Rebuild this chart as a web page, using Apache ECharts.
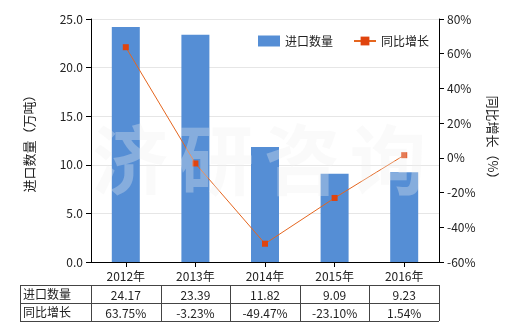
<!DOCTYPE html>
<html><head><meta charset="utf-8">
<script src="https://cdn.jsdelivr.net/npm/echarts@6/dist/echarts.min.js"></script>
<style>html,body{margin:0;padding:0;background:#fff}#c{width:520px;height:330px}</style>
</head><body><div id="c"></div>
<script>
var categories = ['2012年','2013年','2014年','2015年','2016年'];
var importQty = [24.17, 23.39, 11.82, 9.09, 9.23];
var growth = [63.75, -3.23, -49.47, -23.10, 1.54];
var qtyLabels = ['24.17','23.39','11.82','9.09','9.23'];
var growthLabels = ['63.75%','-3.23%','-49.47%','-23.10%','1.54%'];
var rowNames = ['进口数量','同比增长'];

var FONT = '"Noto Sans CJK SC", "Microsoft YaHei", sans-serif';
var chart = echarts.init(document.getElementById('c'), null, {renderer:'canvas'});
var opt = {
  backgroundColor:'#fff',
  textStyle:{fontFamily:FONT},
  animation:false,
  grid:{left:91, right:81, top:19, bottom:68},
  legend:{
    top:30, left:253, itemGap:20, itemWidth:22, itemHeight:11,
    textStyle:{fontFamily:FONT, fontSize:12, color:'#222'},
    data:[{name:'进口数量', icon:'rect'},{name:'同比增长'}]
  },
  xAxis:{
    type:'category', data:categories,
    axisLine:{lineStyle:{color:'#000'}},
    axisTick:{show:true, alignWithLabel:true, lineStyle:{color:'#000'}},
    axisLabel:{color:'#222', fontSize:12, fontFamily:FONT, margin:8}
  },
  yAxis:[{
    type:'value', min:0, max:25, interval:5,
    name:'进口数量（万吨）', nameLocation:'middle', nameGap:55, nameRotate:90,
    nameTextStyle:{fontSize:13, color:'#222', fontFamily:FONT},
    axisLine:{show:true, lineStyle:{color:'#000'}},
    axisTick:{show:true, lineStyle:{color:'#000'}},
    axisLabel:{formatter:function(v){return v.toFixed(1);}, color:'#222', fontSize:12, fontFamily:FONT},
    splitLine:{lineStyle:{color:'#e6e6e6'}}
  },{
    type:'value', min:-60, max:80, interval:20, position:'right',
    name:'同比增长（%）', nameLocation:'middle', nameGap:46, nameRotate:-90,
    nameTextStyle:{fontSize:13, color:'#222', fontFamily:FONT},
    axisLine:{show:true, lineStyle:{color:'#000'}},
    axisTick:{show:true, lineStyle:{color:'#000'}},
    axisLabel:{formatter:'{value}%', color:'#222', fontSize:12, fontFamily:FONT},
    splitLine:{show:false}
  }],
  series:[{
    name:'进口数量', type:'bar', data:importQty, barWidth:28,
    itemStyle:{color:'#558ed5'}
  },{
    name:'同比增长', type:'line', yAxisIndex:1, data:growth,
    symbol:'rect', symbolSize:6,
    lineStyle:{color:'#e5661f', width:1},
    itemStyle:{color:'#e0440e'}
  }]
};
chart.setOption(opt);

// watermark + data table built from arrays
var els = [];
var wm = ['济','研','咨','询'];
for (var i=0;i<wm.length;i++){
  els.push({type:'text', z:50, silent:true, left:92+i*86, top:122,
    style:{text:wm[i], font:'bold 76px '+FONT, fill:'rgba(240,240,240,0.32)'}});
}
var top0 = 285, rowH = 18, x0 = 20;
var centers = categories.map(function(c){ return chart.convertToPixel({xAxisIndex:0}, c); });
var band = centers.length>1 ? centers[1]-centers[0] : 70;
var xL = centers[0]-band/2, xR = centers[centers.length-1]+band/2;
var lc = '#444';
function line(x1,y1,x2,y2){ els.push({type:'line', shape:{x1:x1,y1:y1,x2:x2,y2:y2}, style:{stroke:lc, lineWidth:1}}); }
line(x0, top0+0.5, xR, top0+0.5);
line(x0, top0+rowH+0.5, xR, top0+rowH+0.5);
line(x0, top0+2*rowH+0.5, xR, top0+2*rowH+0.5);
line(x0+0.5, top0, x0+0.5, top0+2*rowH);
for (var k=0;k<=centers.length;k++){
  var xx = Math.round(xL + k*band)+0.5;
  line(xx, top0, xx, top0+2*rowH);
}
var rows = [qtyLabels, growthLabels];
for (var r=0;r<2;r++){
  els.push({type:'text', x:x0+3, y:top0+r*rowH+rowH/2, style:{text:rowNames[r], font:'12px '+FONT, fill:'#222', textAlign:'left', textVerticalAlign:'middle'}});
  for (var c=0;c<centers.length;c++){
    els.push({type:'text', x:centers[c], y:top0+r*rowH+rowH/2+1, style:{text:rows[r][c], font:'12px '+FONT, fill:'#222', textAlign:'center', textVerticalAlign:'middle'}});
  }
}
chart.setOption({graphic:{elements:els}});
</script></body></html>
